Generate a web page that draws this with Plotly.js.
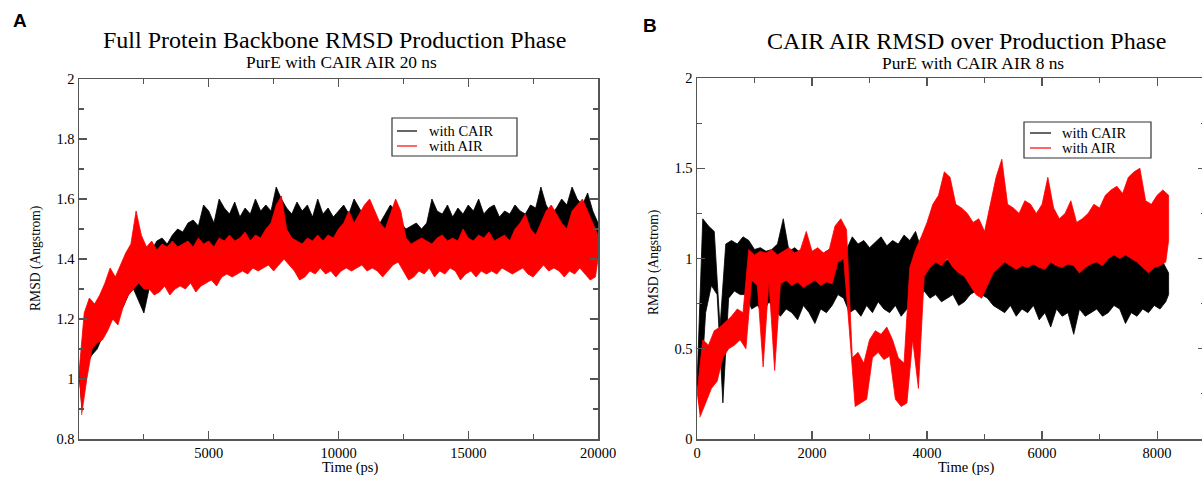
<!DOCTYPE html>
<html>
<head>
<meta charset="utf-8">
<script src="https://cdn.plot.ly/plotly-3.0.1.min.js"></script>
<style>
html,body{margin:0;padding:0;overflow:hidden;background:#fff;}
#chart{width:1212px;height:480px;}
</style>
</head>
<body>
<div id="chart"></div>
<script>
// ---------- data ----------
// Panel A: upper / lower edge of the RMSD band every 200 ps, 0..20000 ps
const stepA = 200;
const cairHiA = [1.00,1.15,1.20,1.22,1.26,1.28,1.30,1.32,1.36,1.38, 1.40,1.42,1.40,1.44,1.43,1.46,1.47,1.45,1.48,1.50, 1.49,1.52,1.53,1.51,1.58,1.56,1.52,1.60,1.57,1.55, 1.59,1.54,1.57,1.55,1.60,1.56,1.58,1.56,1.64,1.60, 1.57,1.55,1.59,1.56,1.58,1.54,1.60,1.55,1.57,1.54, 1.56,1.58,1.55,1.60,1.57,1.54,1.56,1.53,1.52,1.55, 1.58,1.56,1.52,1.50,1.51,1.52,1.50,1.52,1.60,1.56, 1.55,1.58,1.54,1.57,1.55,1.58,1.56,1.60,1.55,1.57, 1.58,1.54,1.56,1.55,1.58,1.56,1.55,1.58,1.57,1.64, 1.58,1.55,1.57,1.60,1.58,1.64,1.60,1.58,1.62,1.56, 1.52];
const cairLoA = [0.90,1.05,1.08,1.10,1.14,1.18,1.20,1.22,1.24,1.28, 1.30,1.26,1.22,1.30,1.32,1.33,1.34,1.36,1.36,1.38, 1.38,1.40,1.40,1.41,1.42,1.42,1.43,1.42,1.44,1.43, 1.45,1.42,1.44,1.43,1.42,1.44,1.45,1.43,1.44,1.46, 1.44,1.42,1.43,1.44,1.42,1.43,1.45,1.44,1.42,1.43, 1.44,1.45,1.43,1.44,1.46,1.43,1.42,1.43,1.42,1.41, 1.43,1.44,1.42,1.41,1.42,1.43,1.42,1.43,1.44,1.43, 1.42,1.44,1.43,1.45,1.43,1.42,1.44,1.43,1.42,1.44, 1.43,1.42,1.44,1.43,1.42,1.44,1.43,1.42,1.44,1.45, 1.43,1.42,1.44,1.43,1.41,1.44,1.42,1.40,1.42,1.41, 1.42];
const airHiA = [1.02,1.22,1.27,1.25,1.28,1.32,1.37,1.34,1.38,1.42, 1.45,1.56,1.48,1.44,1.46,1.43,1.45,1.44,1.46,1.44, 1.45,1.46,1.44,1.47,1.45,1.46,1.44,1.47,1.46,1.48, 1.46,1.47,1.49,1.46,1.48,1.47,1.50,1.52,1.58,1.61, 1.50,1.47,1.46,1.45,1.47,1.46,1.48,1.46,1.48,1.47, 1.50,1.52,1.56,1.52,1.55,1.58,1.60,1.56,1.52,1.50, 1.55,1.60,1.56,1.47,1.45,1.46,1.47,1.46,1.45,1.47, 1.48,1.46,1.47,1.46,1.50,1.47,1.46,1.48,1.47,1.49, 1.46,1.47,1.48,1.46,1.50,1.52,1.55,1.50,1.48,1.52, 1.56,1.58,1.55,1.52,1.50,1.56,1.58,1.60,1.56,1.52, 1.48];
const airLoA = [0.88,1.00,1.10,1.12,1.13,1.16,1.20,1.18,1.24,1.28, 1.30,1.32,1.30,1.30,1.28,1.29,1.31,1.28,1.30,1.31, 1.30,1.32,1.29,1.31,1.32,1.33,1.31,1.34,1.35,1.34, 1.35,1.36,1.35,1.37,1.36,1.37,1.38,1.36,1.38,1.40, 1.38,1.36,1.33,1.34,1.36,1.35,1.37,1.35,1.36,1.34, 1.36,1.37,1.36,1.37,1.38,1.36,1.37,1.36,1.34,1.36, 1.38,1.39,1.36,1.33,1.34,1.36,1.35,1.37,1.34,1.36, 1.35,1.37,1.36,1.33,1.35,1.36,1.34,1.36,1.35,1.36, 1.35,1.37,1.36,1.35,1.36,1.37,1.35,1.34,1.36,1.38, 1.36,1.37,1.36,1.34,1.36,1.35,1.37,1.35,1.33,1.34, 1.40];

// Panel B: upper / lower edge of the RMSD band every 100 ps, 0..8200 ps
const stepB = 100;
const cairHiB = [0.30,1.22,1.18,1.15,0.62,1.08,1.10,1.08,1.12,1.10, 1.05,1.06,1.04,1.05,1.08,1.22,1.04,1.06,1.03,1.05, 1.02,1.04,1.03,1.05,1.00,1.02,1.05,1.12,1.08,1.10, 1.06,1.09,1.12,1.07,1.10,1.08,1.13,1.10,1.15,1.05, 1.02,1.00,1.02,0.98,1.00,1.02,0.98,0.96,0.95,0.97, 0.98,1.00,1.02,0.98,1.01,1.00,0.98,1.02,0.99,1.00, 0.97,1.02,0.99,1.00,1.02,0.98,1.00,1.03,1.00,1.02, 1.05,1.06,1.10,1.08,1.12,1.04,1.08,1.10,1.02,1.00, 1.01,0.98,0.92];
const cairLoB = [0.18,0.70,0.85,0.80,0.20,0.78,0.82,0.80,0.80,0.72, 0.74,0.70,0.76,0.72,0.68,0.72,0.70,0.66,0.74,0.70, 0.64,0.72,0.70,0.74,0.80,0.78,0.70,0.72,0.68,0.74, 0.70,0.76,0.72,0.70,0.74,0.68,0.72,0.80,0.78,0.82, 0.78,0.80,0.76,0.78,0.80,0.74,0.76,0.80,0.82,0.80, 0.78,0.74,0.72,0.70,0.74,0.68,0.72,0.70,0.74,0.66, 0.70,0.62,0.72,0.68,0.70,0.58,0.72,0.68,0.70,0.72, 0.68,0.70,0.74,0.72,0.64,0.70,0.68,0.72,0.70,0.74, 0.72,0.76,0.80];
const airHiB = [0.25,0.55,0.52,0.60,0.62,0.65,0.68,0.72,0.70,1.05, 1.02,1.04,1.03,1.05,1.02,1.04,1.06,1.03,1.05,1.15, 1.04,1.06,1.03,1.05,1.18,1.22,1.16,0.45,0.48,0.42, 0.55,0.60,0.58,0.62,0.55,0.45,0.42,0.95,1.05,1.12, 1.20,1.30,1.35,1.48,1.45,1.30,1.28,1.25,1.20,1.22, 1.15,1.30,1.45,1.55,1.30,1.28,1.25,1.32,1.30,1.25, 1.30,1.45,1.28,1.22,1.25,1.32,1.20,1.22,1.25,1.30, 1.28,1.35,1.38,1.40,1.36,1.45,1.48,1.50,1.32,1.30, 1.35,1.38,1.35];
const airLoB = [0.12,0.20,0.28,0.32,0.45,0.50,0.52,0.55,0.50,0.88, 0.85,0.40,0.88,0.38,0.86,0.88,0.85,0.87,0.84,0.86, 0.88,0.85,0.87,0.86,0.98,1.00,0.60,0.18,0.20,0.22, 0.45,0.48,0.44,0.46,0.22,0.18,0.20,0.55,0.28,0.90, 0.95,0.98,0.96,1.00,0.95,0.92,0.90,0.85,0.80,0.78, 0.85,0.92,0.95,0.98,0.96,0.94,0.96,0.95,0.97,0.95, 0.94,0.98,0.96,0.95,0.97,0.96,0.92,0.95,0.97,0.98, 0.96,1.00,1.02,1.00,1.02,1.00,0.98,0.95,0.92,0.95, 0.96,0.98,1.10];

const seriesNames = ['with CAIR', 'with AIR'];
const seriesColors = ['#000000', '#ff0000'];
const titleA = 'Full Protein Backbone RMSD Production Phase';
const subA = 'PurE with CAIR AIR 20 ns';
const titleB = 'CAIR AIR RMSD over Production Phase';
const subB = 'PurE with CAIR AIR 8 ns';
const xTitle = 'Time (ps)';
const yTitle = 'RMSD (Angstrom)';
const xTicksA = [5000, 10000, 15000, 20000];

// ---------- helpers ----------
const W = 1212, H = 480;
const px = v => v / W;
const py = v => 1 - v / H;
const serif = 'Liberation Serif';

// closed band: upper edge forward, lower edge backward
function band(step, hi, lo) {
  const x = [], y = [];
  for (let i = 0; i < hi.length; i++) { x.push(i * step); y.push(hi[i]); }
  for (let i = lo.length - 1; i >= 0; i--) { x.push(i * step + (i < lo.length - 1 ? step / 2 : 0)); y.push(lo[i]); }
  return {x, y};
}
function bandTrace(b, k, xa, ya) {
  return {x: b.x, y: b.y, type: 'scatter', mode: 'lines', fill: 'toself',
    fillcolor: seriesColors[k], line: {color: seriesColors[k], width: 0.8},
    name: seriesNames[k], showlegend: false, hoverinfo: 'skip', xaxis: xa, yaxis: ya};
}
const traces = [
  bandTrace(band(stepA, cairHiA, cairLoA), 0, 'x', 'y'),
  bandTrace(band(stepA, airHiA, airLoA), 1, 'x', 'y'),
  bandTrace(band(stepB, cairHiB, cairLoB), 0, 'x2', 'y2'),
  bandTrace(band(stepB, airHiB, airLoB), 1, 'x2', 'y2')
];

const axCommon = {
  showline: true, linecolor: '#555', linewidth: 1.5, mirror: 'ticks',
  ticks: 'inside', ticklen: 8, tickwidth: 1.2, tickcolor: '#555',
  showgrid: false, zeroline: false, fixedrange: true, tickformat: 'd',
  tickfont: {family: serif, size: 14.5, color: '#000'}
};
const minorC = {ticks: 'inside', ticklen: 5, tickwidth: 1.2, tickcolor: '#555', showgrid: false};

// legends drawn as boxes, sample lines and text
const shapes = [], ann = [];
function legendBox(x0, y0, x1, y1, lx0, lx1, ly, tx) {
  shapes.push({type: 'rect', xref: 'paper', yref: 'paper', x0: px(x0), x1: px(x1), y0: py(y1), y1: py(y0), line: {color: '#333', width: 1.2}, fillcolor: '#fff', layer: 'above'});
  for (let k = 0; k < 2; k++) {
    shapes.push({type: 'line', xref: 'paper', yref: 'paper', x0: px(lx0), x1: px(lx1), y0: py(ly[k]), y1: py(ly[k]), line: {color: seriesColors[k], width: 1.2}, layer: 'above'});
    ann.push({text: seriesNames[k], x: px(tx), y: py(ly[k]), xref: 'paper', yref: 'paper', showarrow: false, xanchor: 'left', yanchor: 'middle', font: {family: serif, size: 14.5, color: '#000'}});
  }
}
legendBox(392, 118, 517, 156, 397, 417, [131, 146], 427);
legendBox(1024, 122, 1151, 158, 1030, 1051, [133, 148], 1060);

function txt(t, x, y, size, opts) {
  ann.push(Object.assign({text: t, x: px(x), y: py(y), xref: 'paper', yref: 'paper', showarrow: false, xanchor: 'center', yanchor: 'middle', font: {family: serif, size: size, color: '#000'}}, opts || {}));
}
txt('<b>A</b>', 20, 21, 19, {font: {family: 'Liberation Sans', size: 19, color: '#000'}});
txt('<b>B</b>', 650, 25, 19, {font: {family: 'Liberation Sans', size: 19, color: '#000'}});
txt(titleA, 334, 40, 24);
txt(subA, 342, 62, 17.4);
txt(titleB, 966, 41, 24);
txt(subB, 973, 63, 17.4);
txt(xTitle, 350, 467, 14.5);
txt(xTitle, 966, 467, 14.5);
txt(yTitle, 36, 259, 13.6, {textangle: -90});
txt(yTitle, 654, 263, 13.6, {textangle: -90});

const layout = {
  width: W, height: H, margin: {l: 0, r: 0, t: 0, b: 0},
  paper_bgcolor: '#fff', plot_bgcolor: '#fff', showlegend: false,
  xaxis: Object.assign({}, axCommon, {domain: [px(79), px(598)], range: [0, 20000], tickmode: 'array', tickvals: xTicksA, minor: Object.assign({dtick: 2500, tick0: 0}, minorC), anchor: 'y'}),
  yaxis: Object.assign({}, axCommon, {domain: [py(439), py(79)], range: [0.8, 2], dtick: 0.2, tick0: 0.8, tickformat: '', minor: Object.assign({dtick: 0.1}, minorC), anchor: 'x'}),
  xaxis2: Object.assign({}, axCommon, {domain: [px(697), px(1206)], range: [0, 8850], dtick: 2000, tick0: 0, minor: Object.assign({dtick: 1000}, minorC), anchor: 'y2'}),
  yaxis2: Object.assign({}, axCommon, {domain: [py(439), py(78)], range: [0, 2], dtick: 0.5, tick0: 0, tickformat: '', minor: Object.assign({dtick: 0.25}, minorC), anchor: 'x2'}),
  shapes: shapes,
  annotations: ann
};
Plotly.newPlot('chart', traces, layout, {staticPlot: true, displayModeBar: false});
</script>
</body>
</html>
